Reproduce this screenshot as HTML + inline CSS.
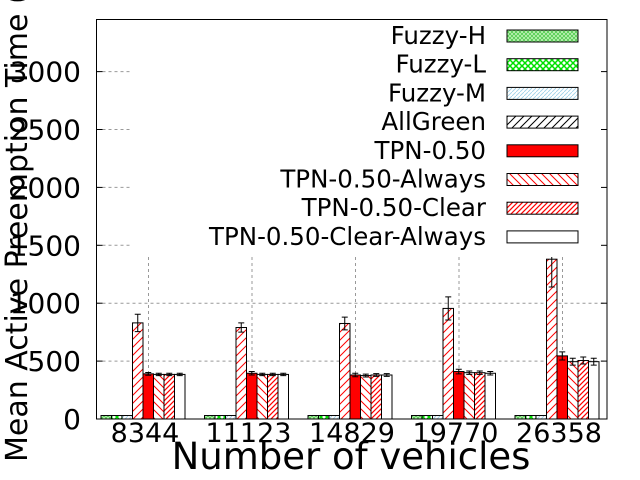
<!DOCTYPE html>
<html><head><meta charset="utf-8"><style>
html,body{margin:0;padding:0;background:#fff;}
svg{display:block;font-family:"DejaVu Sans","Liberation Sans",sans-serif;}
</style></head><body>
<svg id="chart" width="640" height="480">
<defs>
<pattern id="pH" width="4" height="4" patternUnits="userSpaceOnUse"><rect width="4" height="4" fill="#b8f0b0"/><path d="M0 0L4 4M4 0L0 4" stroke="#30c030" stroke-width="0.6"/></pattern>
<pattern id="pL" width="6" height="6" patternUnits="userSpaceOnUse"><rect width="6" height="6" fill="#fff"/><path d="M0 0L6 6M6 0L0 6" stroke="#00e000" stroke-width="1.5"/></pattern>
<pattern id="pM" width="4" height="4" patternUnits="userSpaceOnUse"><rect width="4" height="4" fill="#fff"/><path d="M0 4L4 0" stroke="#9cd0e8" stroke-width="0.8"/></pattern>
<pattern id="pA" width="8" height="8" patternUnits="userSpaceOnUse"><rect width="8" height="8" fill="#fff"/><path d="M0 8L8 0M-2 2L2 -2M6 10L10 6" stroke="#f00" stroke-width="1"/></pattern>
<pattern id="pAk" width="8" height="8" patternUnits="userSpaceOnUse"><rect width="8" height="8" fill="#fff"/><path d="M0 8L8 0M-2 2L2 -2M6 10L10 6" stroke="#000" stroke-width="1"/></pattern>
<pattern id="pW" width="8" height="8" patternUnits="userSpaceOnUse"><rect width="8" height="8" fill="#fff"/><path d="M0 0L8 8M-2 6L2 10M6 -2L10 2" stroke="#f00" stroke-width="1"/></pattern>
<pattern id="pC" width="5" height="5" patternUnits="userSpaceOnUse"><rect width="5" height="5" fill="#fff"/><path d="M0 5L5 0M-1 1L1 -1M4 6L6 4" stroke="#f00" stroke-width="1.2"/></pattern>
</defs>
<g id="grid"></g>
<g id="bars"></g>
<g id="legend"></g>
<g id="axes"></g>
</svg>
<script>
const categories = ["8344","11123","14829","19770","26358"];
const seriesNames = ["Fuzzy-H","Fuzzy-L","Fuzzy-M","AllGreen","TPN-0.50","TPN-0.50-Always","TPN-0.50-Clear","TPN-0.50-Clear-Always"];
const fuzzyH = [30,30,30,30,30];
const fuzzyL = [30,30,30,30,30];
const fuzzyM = [30,30,30,30,30];
const allGreen = [830,790,825,955,1380];
const tpn = [390,395,380,410,545];
const tpnAlways = [385,385,375,400,495];
const tpnClear = [385,385,380,400,505];
const tpnClearAlways = [385,385,380,395,495];
const errAllGreen = [75,40,55,100,240];
const errTpn = [12,15,15,20,35];
const errOther = [10,10,12,15,30];
const yTicks = [0,500,1000,1500,2000,2500,3000];
const yMax = 3450;

const NS="http://www.w3.org/2000/svg";
const L=96.5,R=607,T=19.5,B=419;
function y(v){return B-(v/yMax)*(B-T);}
const groupStart=101, groupStep=103.5, barW=10.5;
function xBar(g,s){return groupStart+g*groupStep+s*barW;}
function el(tag,attrs,parent){const e=document.createElementNS(NS,tag);for(const k in attrs)e.setAttribute(k,attrs[k]);parent.appendChild(e);return e;}
const fills=["url(#pH)","url(#pL)","url(#pM)","url(#pA)","#f00","url(#pW)","url(#pC)","#fff"];
const legFills=["url(#pH)","url(#pL)","url(#pM)","url(#pAk)","#f00","url(#pW)","url(#pC)","#fff"];
const series=[fuzzyH,fuzzyL,fuzzyM,allGreen,tpn,tpnAlways,tpnClear,tpnClearAlways];
const errs=[null,null,null,errAllGreen,errTpn,errOther,errOther,errOther];
const grid=document.getElementById('grid'),bars=document.getElementById('bars'),leg=document.getElementById('legend'),axes=document.getElementById('axes');
const legL=130, legB=257;
yTicks.forEach(t=>{if(t===0)return;const yy=y(t);
 const x2 = yy<legB? legL : R;
 const g=el('line',{x1:L,x2:x2,y1:yy,y2:yy,stroke:'#999','stroke-dasharray':'3,3','stroke-width':1},grid);
 
 const tk=el('line',{x1:R-6,x2:R,y1:yy,y2:yy,stroke:'#000'},axes);
 
 const tl=el('line',{x1:L,x2:L+6,y1:yy,y2:yy,stroke:'#000'},axes);
 
});
categories.forEach((c,g)=>{const xx=xBar(g,4)+5.5;
 const v=el('line',{x1:xx,x2:xx,y1:legB,y2:B,stroke:'#999','stroke-dasharray':'3,3'},grid);
 
 const t=el('text',{x:xBar(g,4)+2,y:442,'font-size':27,'text-anchor':'middle'},axes);t.textContent=c;
 
});
series.forEach((arr,s)=>{arr.forEach((v,g)=>{
 const x=xBar(g,s);
 const r=el('rect',{x:x,y:y(v),width:barW,height:B-y(v),fill:fills[s],stroke:'#000','stroke-width':1},bars);
 
 
 if(errs[s]){const e=errs[s][g],cx=x+barW/2;
  const eb=el('path',{d:`M${cx} ${y(v+e)}V${y(v-e)}M${cx-3} ${y(v+e)}h6M${cx-3} ${y(v-e)}h6`,stroke:'#000',fill:'none'},bars);
  }
});});
const lg=el('rect',{x:legL,y:T,width:R-legL,height:legB-T,fill:'#fff'},leg);

seriesNames.forEach((n,i)=>{const cy=36+i*28.7;
 const t=el('text',{x:486,y:cy+8,'font-size':24.5,'text-anchor':'end'},leg);t.textContent=n;
 
 const r=el('rect',{x:507,y:cy-6,width:71,height:12,fill:legFills[i],stroke:'#000'},leg);
 
});
yTicks.forEach(t=>{const tx=el('text',{x:81,y:y(t)+10,'font-size':28,'text-anchor':'end'},axes);tx.textContent=t;
 });
const fr=el('rect',{x:L,y:T,width:R-L,height:B-T,fill:'none',stroke:'#000','stroke-width':1},axes);

const yt=el('text',{x:0,y:0,'font-size':30,'text-anchor':'start',transform:'translate(27,462) rotate(-90)'},axes);
yt.textContent='Mean Active Preemption Time (s)';

const xt=el('text',{x:351,y:469,'font-size':37,'text-anchor':'middle'},axes);
xt.textContent='Number of vehicles';

</script>
</body></html>
